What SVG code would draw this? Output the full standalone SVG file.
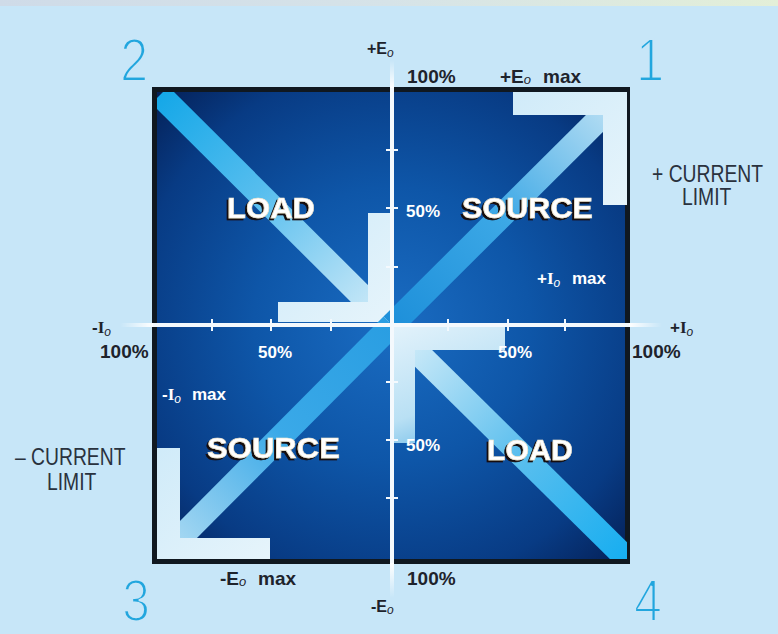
<svg xmlns="http://www.w3.org/2000/svg" width="778" height="634" viewBox="0 0 778 634">
<style>
.num{font-family:"Liberation Sans",Arial,sans-serif;font-size:62px;fill:#22a6de;stroke:#c7e6f8;stroke-width:2.2px}
.num2{font-family:"Liberation Sans",Arial,sans-serif;font-size:60px;fill:#22a6de;stroke:#c7e6f8;stroke-width:2.2px}
.dk{font-family:"Liberation Sans",Arial,sans-serif;font-weight:bold;fill:#1e232c}
.wt{font-family:"Liberation Sans",Arial,sans-serif;font-weight:bold;fill:#ffffff}
.ser{font-family:"Liberation Serif","Times New Roman",serif;font-weight:bold}
.sub{font-style:italic;font-weight:normal}
.lim{font-family:"Liberation Sans",Arial,sans-serif;font-size:23px;fill:#2a323e}
.big{font-family:"Liberation Sans",Arial,sans-serif;font-weight:bold;font-size:30px;fill:#ffffff;stroke:#efe4cc;stroke-width:0.6px;filter:url(#shadow)}
.axis{stroke:#f4f9fd;stroke-width:4}
.tick{stroke:#f4f9fd;stroke-width:2}
.band{stroke-width:24;fill:none;stroke-linecap:butt}
</style>
<defs>
<filter id="shadow" x="-10%" y="-20%" width="120%" height="150%">
<feDropShadow dx="-2" dy="2" stdDeviation="0.6" flood-color="#14100a" flood-opacity="1"/>
</filter>
<linearGradient id="topstrip" x1="0" y1="0" x2="1" y2="0">
<stop offset="0" stop-color="#cfdbe8"/><stop offset="0.5" stop-color="#d6e3e8"/><stop offset="1" stop-color="#e3efd8"/>
</linearGradient>
<radialGradient id="field" gradientUnits="userSpaceOnUse" cx="392" cy="325" r="345">
<stop offset="0" stop-color="#1a6cc2"/><stop offset="0.4" stop-color="#0e56a8"/><stop offset="0.75" stop-color="#083b84"/><stop offset="1" stop-color="#041b4e"/>
</radialGradient>
<linearGradient id="g2" gradientUnits="userSpaceOnUse" x1="162" y1="97" x2="372" y2="306">
<stop offset="0" stop-color="#16a8e8"/><stop offset="0.45" stop-color="#55bdee"/><stop offset="1" stop-color="#c6e7f7"/>
</linearGradient>
<linearGradient id="g1" gradientUnits="userSpaceOnUse" x1="394" y1="323" x2="607" y2="111">
<stop offset="0" stop-color="#1e90da"/><stop offset="0.5" stop-color="#3ca8e6"/><stop offset="1" stop-color="#b4ddf3"/>
</linearGradient>
<linearGradient id="g3" gradientUnits="userSpaceOnUse" x1="390" y1="327" x2="176" y2="542">
<stop offset="0" stop-color="#2a9ee2"/><stop offset="0.5" stop-color="#3aa9e8"/><stop offset="1" stop-color="#a6d8f2"/>
</linearGradient>
<linearGradient id="g4" gradientUnits="userSpaceOnUse" x1="625" y1="557" x2="412" y2="347">
<stop offset="0" stop-color="#18aef0"/><stop offset="0.5" stop-color="#5cbfee"/><stop offset="1" stop-color="#c9e9f8"/>
</linearGradient>
<linearGradient id="head" x1="0" y1="0" x2="1" y2="1">
<stop offset="0" stop-color="#d0ebf9"/><stop offset="1" stop-color="#e6f4fb"/>
</linearGradient>
<linearGradient id="head4" gradientUnits="userSpaceOnUse" x1="394" y1="327" x2="440" y2="445">
<stop offset="0" stop-color="#e2f2fb"/><stop offset="0.7" stop-color="#b9e0f4"/><stop offset="1" stop-color="#7cc2ea"/>
</linearGradient>
<linearGradient id="fadeL" x1="0" y1="0" x2="1" y2="0"><stop offset="0" stop-color="#ffffff" stop-opacity="0"/><stop offset="1" stop-color="#ffffff"/></linearGradient>
<linearGradient id="fadeR" x1="1" y1="0" x2="0" y2="0"><stop offset="0" stop-color="#ffffff" stop-opacity="0"/><stop offset="1" stop-color="#ffffff"/></linearGradient>
<linearGradient id="fadeT" x1="0" y1="0" x2="0" y2="1"><stop offset="0" stop-color="#ffffff" stop-opacity="0"/><stop offset="1" stop-color="#ffffff"/></linearGradient>
<linearGradient id="fadeB" x1="0" y1="1" x2="0" y2="0"><stop offset="0" stop-color="#ffffff" stop-opacity="0"/><stop offset="1" stop-color="#ffffff"/></linearGradient>
<clipPath id="inner"><rect x="157" y="92" width="470" height="467"/></clipPath>
</defs>

<rect x="0" y="0" width="778" height="634" fill="#c7e6f8"/>
<rect x="0" y="0" width="778" height="6" fill="url(#topstrip)"/>

<g id="field-frame">
<rect x="154.5" y="89.5" width="473" height="472" fill="url(#field)" stroke="#101820" stroke-width="5"/>
</g>

<g id="arrows" clip-path="url(#inner)">
<g id="arrow-q2-load">
<line class="band" x1="160" y1="95" x2="372" y2="306" stroke="url(#g2)"/>
<polygon points="390,322 278,322 278,302 368,302 368,213 390,213" fill="url(#head)"/>
</g>
<g id="arrow-q1-source">
<line class="band" x1="392" y1="325" x2="608" y2="110" stroke="url(#g1)"/>
<polygon points="627,92 513,92 513,115 603,115 603,205 627,205" fill="url(#head)"/>
</g>
<g id="arrow-q3-source">
<line class="band" x1="392" y1="325" x2="176" y2="542" stroke="url(#g3)"/>
<polygon points="157,559 157,448 180,448 180,538 270,538 270,559" fill="url(#head)"/>
</g>
<g id="arrow-q4-load">
<line class="band" x1="628" y1="560" x2="412" y2="347" stroke="url(#g4)"/>
<polygon points="392,327 505,327 505,350 415,350 415,443 392,443" fill="url(#head4)"/>
</g>
</g>

<g id="axes">
<line class="axis" x1="152" y1="325" x2="630" y2="325"/>
<line class="axis" x1="392" y1="87" x2="392" y2="564"/>
<rect x="120" y="323" width="33" height="4" fill="url(#fadeL)"/>
<rect x="629" y="323" width="33" height="4" fill="url(#fadeR)"/>
<rect x="390" y="60" width="4" height="28" fill="url(#fadeT)"/>
<rect x="390" y="563" width="4" height="35" fill="url(#fadeB)"/>
<g id="ticks">
<line class="tick" x1="212" y1="319" x2="212" y2="331"/>
<line class="tick" x1="271" y1="319" x2="271" y2="331"/>
<line class="tick" x1="331" y1="319" x2="331" y2="331"/>
<line class="tick" x1="448" y1="319" x2="448" y2="331"/>
<line class="tick" x1="508" y1="319" x2="508" y2="331"/>
<line class="tick" x1="565" y1="319" x2="565" y2="331"/>
<line class="tick" x1="386" y1="150" x2="398" y2="150"/>
<line class="tick" x1="386" y1="208" x2="398" y2="208"/>
<line class="tick" x1="386" y1="267" x2="398" y2="267"/>
<line class="tick" x1="386" y1="382" x2="398" y2="382"/>
<line class="tick" x1="386" y1="440" x2="398" y2="440"/>
<line class="tick" x1="386" y1="498" x2="398" y2="498"/>
</g>
</g>

<g id="quadrant-numbers">
<text class="num" transform="translate(120,81) scale(0.82,1)">2</text>
<text class="num" transform="translate(636,81) scale(0.82,1)">1</text>
<text class="num2" transform="translate(122,621) scale(0.84,1)">3</text>
<text class="num2" transform="translate(634,621) scale(0.84,1)">4</text>
</g>

<g id="axis-labels">
<text class="dk" x="367" y="54" font-size="16">+E<tspan class="sub" font-size="12" dy="3">o</tspan></text>
<text class="dk" x="407" y="83" font-size="19">100%</text>
<text class="dk" x="500" y="83" font-size="19">+E<tspan class="sub" font-size="13" dy="1">o</tspan><tspan dy="-1" x="543">max</tspan></text>
<text class="dk" x="92" y="333" font-size="17">-<tspan class="ser">I</tspan><tspan class="sub" font-size="12" dy="3">o</tspan></text>
<text class="dk" x="100" y="358" font-size="19">100%</text>
<text class="dk" x="670" y="333" font-size="17">+<tspan class="ser">I</tspan><tspan class="sub" font-size="12" dy="3">o</tspan></text>
<text class="dk" x="632" y="358" font-size="19">100%</text>
<text class="dk" x="220" y="585" font-size="19">-E<tspan class="sub" font-size="13" dy="1">o</tspan><tspan dy="-1" x="258">max</tspan></text>
<text class="dk" x="407" y="585" font-size="19">100%</text>
<text class="dk" x="371" y="612" font-size="16">-E<tspan class="sub" font-size="12" dy="2">o</tspan></text>
</g>

<g id="current-limits">
<text class="lim" transform="translate(652,182) scale(0.84,1)">+ CURRENT</text>
<text class="lim" transform="translate(682,205) scale(0.84,1)">LIMIT</text>
<text class="lim" transform="translate(15,465) scale(0.84,1)">– CURRENT</text>
<text class="lim" transform="translate(47,490) scale(0.84,1)">LIMIT</text>
</g>

<g id="inner-labels">
<text class="wt" x="406" y="217" font-size="17">50%</text>
<text class="wt" x="258" y="358" font-size="17">50%</text>
<text class="wt" x="498" y="358" font-size="17">50%</text>
<text class="wt" x="406" y="451" font-size="17">50%</text>
<text class="wt" x="537" y="284" font-size="17">+<tspan class="ser">I</tspan><tspan class="sub" font-size="12" dy="3">o</tspan><tspan dy="-3" x="572">max</tspan></text>
<text class="wt" x="162" y="400" font-size="17">-<tspan class="ser">I</tspan><tspan class="sub" font-size="12" dy="3">o</tspan><tspan dy="-3" x="192">max</tspan></text>
</g>

<g id="region-q2-load">
<text class="big" x="227" y="218" textLength="88" lengthAdjust="spacingAndGlyphs">LOAD</text>
</g>
<g id="region-q1-source">
<text class="big" x="462" y="218" textLength="131" lengthAdjust="spacingAndGlyphs">SOURCE</text>
</g>
<g id="region-q3-source">
<text class="big" x="207" y="458" textLength="133" lengthAdjust="spacingAndGlyphs">SOURCE</text>
</g>
<g id="region-q4-load">
<text class="big" x="487" y="460" textLength="86" lengthAdjust="spacingAndGlyphs">LOAD</text>
</g>
</svg>
